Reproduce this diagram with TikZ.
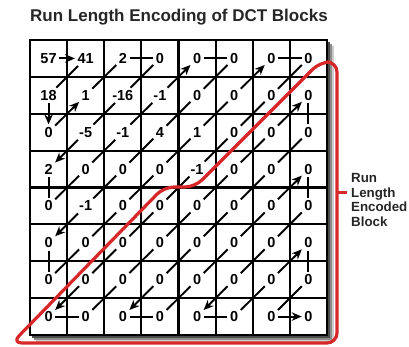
\documentclass[tikz,border=0pt]{standalone}
\usepackage{fontspec}
\setmainfont{Liberation Sans}
\usetikzlibrary{arrows.meta}
\definecolor{rleRed}{RGB}{214,40,40}
\begin{document}
\begin{tikzpicture}[x=1pt,y=-1pt,
  num/.style={font=\fontsize{14.5}{14.5}\selectfont\bfseries, inner sep=2pt},
  zzline/.style={line width=1.9pt, shorten <=0.5pt, shorten >=0.5pt},
  zzarrow/.style={zzline, -{Stealth[length=10pt,width=8.5pt]}},
  gridline/.style={line width=2.1pt, line cap=rect},
  redline/.style={rleRed, line width=3.2pt, rounded corners=10pt, line join=round}]
\useasboundingbox (0,0) rectangle (409,347);
% title
\node[anchor=base west, inner sep=0, font=\fontsize{17}{20}\selectfont\bfseries, text=black!85] (title) at (30,22) {Run Length Encoding of DCT Blocks};
% shadow
\fill[black!20] (36,46) rectangle (334,342);
\fill[black!45] (34,44) rectangle (332,340);
\fill[black!70] (32,42) rectangle (330,338);
\fill[white] (30,40) rectangle (327,335);
% grid
\foreach \k in {0,...,8} {
  \draw[gridline] ({30+\k*37.125},40) -- ({30+\k*37.125},335);
  \draw[gridline] (30,{40+\k*36.875}) -- (327,{40+\k*36.875});
}
% numbers
\foreach \row [count=\i from 0] in {
  {57,41,2,0,0,0,0,0},
  {18,1,-16,-1,0,0,0,0},
  {0,-5,-1,4,1,0,0,0},
  {2,0,0,0,-1,0,0,0},
  {0,-1,0,0,0,0,0,0},
  {0,0,0,0,0,0,0,0},
  {0,0,0,0,0,0,0,0},
  {0,0,0,0,0,0,0,0}} {
  \foreach \v [count=\j from 0] in \row {
    \node[num] (c\i\j) at ({30+(\j+0.5)*37.125},{40+(\i+0.5)*36.875}) {\v};
  }
}
% zigzag
\foreach \a/\b/\s in {00/01/zzarrow, 01/10/zzline, 10/20/zzarrow, 20/11/zzarrow, 11/02/zzline, 02/03/zzline, 03/12/zzline, 12/21/zzline, 21/30/zzarrow, 30/40/zzline, 40/31/zzline, 31/22/zzline, 22/13/zzline, 13/04/zzarrow, 04/05/zzline, 05/14/zzline, 14/23/zzline, 23/32/zzline, 32/41/zzline, 41/50/zzarrow, 50/60/zzline, 60/51/zzline, 51/42/zzline, 42/33/zzline, 33/24/zzline, 24/15/zzline, 15/06/zzarrow, 06/07/zzline, 07/16/zzline, 16/25/zzline, 25/34/zzline, 34/43/zzline, 43/52/zzline, 52/61/zzline, 61/70/zzarrow, 70/71/zzline, 71/62/zzline, 62/53/zzline, 53/44/zzline, 44/35/zzline, 35/26/zzline, 26/17/zzarrow, 17/27/zzline, 27/36/zzline, 36/45/zzline, 45/54/zzline, 54/63/zzline, 63/72/zzarrow, 72/73/zzline, 73/64/zzline, 64/55/zzline, 55/46/zzline, 46/37/zzarrow, 37/47/zzline, 47/56/zzline, 56/65/zzline, 65/74/zzarrow, 74/75/zzline, 75/66/zzline, 66/57/zzarrow, 57/67/zzline, 67/76/zzline, 76/77/zzarrow}
{\draw[\s] (c\a) -- (c\b);}
% red outline
\draw[redline] (164,187) -- (195,187) -- (320,62) -- (337,62) -- (337,343) -- (12,343) -- cycle;
\coordinate (tickA) at (337,193);
\coordinate (tickB) at (347,193);
\draw[rleRed, line width=3pt] (tickA) -- (tickB);
\node[anchor=north west, inner sep=0, align=left, font=\fontsize{13.3}{14.7}\selectfont\bfseries, text=black!85] (label) at (351,173) {Run\\Length\\Encoded\\Block};
\end{tikzpicture}
\end{document}
